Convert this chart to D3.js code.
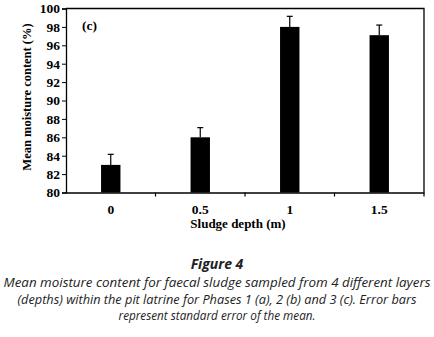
<!DOCTYPE html>
<html>
<head>
<meta charset="utf-8">
<script src="https://cdn.jsdelivr.net/npm/d3@7"></script>
<style>
  body { margin: 0; background: #fff; }
  svg { display: block; }
  .tick text { font-family: "Liberation Serif", "Times New Roman", serif; font-weight: bold; font-size: 13.5px; fill: #000; }
  .caption { font-family: "Open Sans", "Noto Sans", sans-serif; font-style: italic; fill: #222; }
</style>
</head>
<body>
<div id="chart"></div>
<script>
// sludge depth categories and mean moisture content, phase 3 (c)
const depths = ['0', '0.5', '1', '1.5'];
const moisture = [83, 86, 98, 97.1];
const stdErr = [1.15, 1.05, 1.15, 1.1];
const yTicks = [80, 82, 84, 86, 88, 90, 92, 94, 96, 98, 100];

const W = 434, H = 337;
const margin = {left: 66, right: 10, top: 8.5, bottom: 144.5};

const svg = d3.select('#chart').append('svg')
    .attr('width', W)
    .attr('height', H);

const x = d3.scaleBand()
    .domain(depths)
    .range([margin.left, W - margin.right]);

const y = d3.scaleLinear()
    .domain([80, 100])
    .range([H - margin.bottom, margin.top]);

// frame (top + right)
svg.append('path')
    .attr('d', `M${margin.left},${margin.top}H${W - margin.right}V${H - margin.bottom}`)
    .attr('fill', 'none')
    .attr('stroke', '#000')
    .attr('stroke-width', 1.3);

// bars
svg.selectAll('rect.bar')
    .data(depths)
    .enter().append('rect')
    .attr('class', 'bar')
    .attr('x', (d)=> x(d) + x.bandwidth() / 2 - 9.7)
    .attr('width', 19.4)
    .attr('y', (d, i)=> y(moisture[i]))
    .attr('height', (d, i)=> y(80) - y(moisture[i]))
    .attr('fill', '#000');

// error bars (upper half only)
const err = svg.append('g')
    .attr('stroke', '#000')
    .attr('stroke-width', 1.2);
depths.forEach((d, i)=>{
    let cx = x(d) + x.bandwidth() / 2;
    err.append('line')
        .attr('x1', cx).attr('x2', cx)
        .attr('y1', y(moisture[i])).attr('y2', y(moisture[i] + stdErr[i]));
    err.append('line')
        .attr('x1', cx - 3).attr('x2', cx + 3)
        .attr('y1', y(moisture[i] + stdErr[i])).attr('y2', y(moisture[i] + stdErr[i]));
});

// y axis
const yAxis = svg.append('g')
    .attr('transform', `translate(${margin.left},0)`)
    .call(d3.axisLeft(y).tickValues(yTicks).tickSize(4).tickPadding(2));
yAxis.select('.domain').attr('stroke-width', 1.3);

// x axis, ticks on the band boundaries
const xAxis = svg.append('g')
    .attr('transform', `translate(0,${H - margin.bottom})`)
    .call(d3.axisBottom(x).tickSize(0).tickPadding(12));
xAxis.select('.domain').attr('stroke-width', 1.3);
xAxis.selectAll('.tick text').attr('dy', '0.71em');
svg.append('g')
    .selectAll('line')
    .data(depths.slice(1).concat(['end']))
    .enter().append('line')
    .attr('x1', (d)=> d === 'end' ? W - margin.right : x(d))
    .attr('x2', (d)=> d === 'end' ? W - margin.right : x(d))
    .attr('y1', H - margin.bottom)
    .attr('y2', H - margin.bottom + 4)
    .attr('stroke', '#000')
    .attr('stroke-width', 1.2);

// axis titles
svg.append('text')
    .attr('transform', `translate(31,${97}) rotate(-90)`)
    .attr('text-anchor', 'middle')
    .style('font', 'bold 12.5px "Liberation Serif", serif')
    .text('Mean moisture content (%)');

svg.append('text')
    .attr('x', 238)
    .attr('y', 228)
    .attr('text-anchor', 'middle')
    .style('font', 'bold 13px "Liberation Serif", serif')
    .text('Sludge depth (m)');

svg.append('text')
    .attr('x', 82)
    .attr('y', 30)
    .style('font', 'bold 13.5px "Liberation Serif", serif')
    .text('(c)');

// caption
svg.append('text')
    .attr('class', 'caption')
    .attr('x', 217)
    .attr('y', 269)
    .attr('text-anchor', 'middle')
    .style('font-weight', 'bold')
    .style('font-size', '14px')
    .text('Figure 4');

const captionLines = [
    'Mean moisture content for faecal sludge sampled from 4 different layers',
    '(depths) within the pit latrine for Phases 1 (a), 2 (b) and 3 (c). Error bars',
    'represent standard error of the mean.'
];
const captionWidths = [427, 399, 197];
captionLines.forEach((line, i)=>{
    svg.append('text')
        .attr('class', 'caption')
        .attr('x', 217)
        .attr('y', 287 + i * 16.5)
        .attr('text-anchor', 'middle')
        .attr('textLength', captionWidths[i])
        .attr('lengthAdjust', 'spacingAndGlyphs')
        .style('font-size', '12.5px')
        .text(line);
});
</script>
</body>
</html>
